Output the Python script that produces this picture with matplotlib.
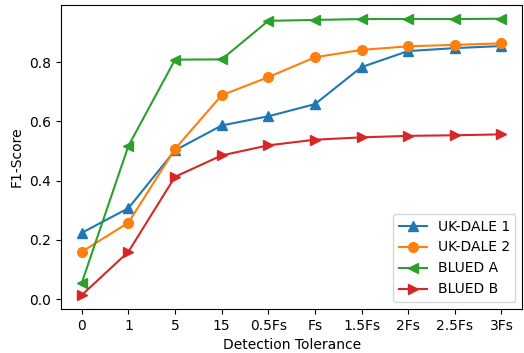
import numpy as np
import matplotlib
matplotlib.use("Agg")
import matplotlib.pyplot as plt

tolerances = ['0', '1', '5', '15', '0.5Fs', 'Fs', '1.5Fs', '2Fs', '2.5Fs', '3Fs']
ukdale1 = [0.224, 0.307, 0.502, 0.586, 0.617, 0.658, 0.783, 0.837, 0.847, 0.854]
ukdale2 = [0.160, 0.258, 0.507, 0.688, 0.749, 0.816, 0.841, 0.853, 0.858, 0.863]
bluedA = [0.055, 0.517, 0.808, 0.809, 0.939, 0.942, 0.945, 0.945, 0.945, 0.946]
bluedB = [0.014, 0.160, 0.413, 0.485, 0.519, 0.538, 0.546, 0.551, 0.553, 0.556]

fig, ax = plt.subplots(figsize=(5.24, 3.53), dpi=100)
x = np.arange(len(tolerances))
ax.plot(x, ukdale1, marker='^', markersize=7, label='UK-DALE 1')
ax.plot(x, ukdale2, marker='o', markersize=7, label='UK-DALE 2')
ax.plot(x, bluedA, marker='<', markersize=7, label='BLUED A')
ax.plot(x, bluedB, marker='>', markersize=7, label='BLUED B')

ax.set_xticks(x)
ax.set_xticklabels(tolerances)
ax.set_xlabel('Detection Tolerance')
ax.set_ylabel('F1-Score')
ax.legend(loc='lower right')

fig.subplots_adjust(left=0.116, right=0.997, bottom=0.125, top=0.986)
fig.savefig('out.png', dpi=100)
